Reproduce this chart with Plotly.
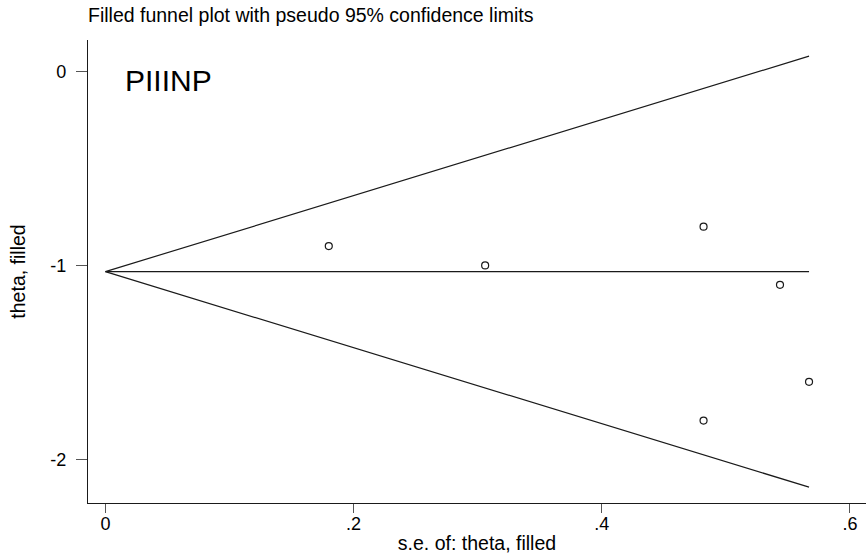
import plotly.graph_objects as go

# Study data
se_values = [0.180, 0.306, 0.482, 0.482, 0.5436, 0.567]
theta_values = [-0.90, -1.00, -0.80, -1.80, -1.10, -1.60]

# Pooled estimate and funnel extent
theta_pooled = -1.032
se_max = 0.567
z95 = 1.96

x_ticks = [0, 0.2, 0.4, 0.6]
x_tick_labels = ["0", ".2", ".4", ".6"]
y_ticks = [0, -1, -2]
y_tick_labels = ["0", "-1", "-2"]

FONT = "Liberation Sans, Arial, sans-serif"
LINE = "#1a1a1a"

fig = go.Figure()

# Pseudo 95% confidence limits
fig.add_trace(go.Scatter(
    x=[se_max, 0, se_max],
    y=[theta_pooled + z95 * se_max, theta_pooled, theta_pooled - z95 * se_max],
    mode="lines", line=dict(color=LINE, width=1.2), hoverinfo="skip", showlegend=False))
# Pooled estimate line
fig.add_trace(go.Scatter(
    x=[0, se_max], y=[theta_pooled, theta_pooled],
    mode="lines", line=dict(color=LINE, width=1.2), hoverinfo="skip", showlegend=False))
# Studies
fig.add_trace(go.Scatter(
    x=se_values, y=theta_values, mode="markers",
    marker=dict(symbol="circle-open", size=7, color=LINE, line=dict(width=1.2)),
    showlegend=False))

fig.update_layout(
    width=866, height=559,
    margin=dict(l=88, r=0, t=40, b=56),
    paper_bgcolor="white", plot_bgcolor="white",
    font=dict(family=FONT, color="black"),
    title=dict(text="Filled funnel plot with pseudo 95% confidence limits",
               x=88 / 866, xanchor="left", y=1 - 15 / 559, yanchor="middle",
               font=dict(size=19.5, family=FONT, color="black")),
    xaxis=dict(range=[-0.01403, 0.6129], tickvals=x_ticks, ticktext=x_tick_labels,
               showgrid=False, zeroline=False, showline=True, linecolor=LINE, linewidth=1.2,
               ticks="outside", ticklen=9, tickcolor="#555555", tickwidth=1,
               tickfont=dict(size=18, family=FONT), ticklabelstandoff=-5,
               title=dict(text="s.e. of: theta, filled", font=dict(size=19.5, family=FONT), standoff=3)),
    yaxis=dict(range=[-2.225, 0.1625], tickvals=y_ticks, ticktext=y_tick_labels,
               showgrid=False, zeroline=False, showline=True, linecolor=LINE, linewidth=1.2,
               ticks="outside", ticklen=11, tickcolor="#555555", tickwidth=1,
               tickfont=dict(size=18, family=FONT), ticklabelstandoff=6,
               title=dict(text="theta, filled", font=dict(size=19.5, family=FONT), standoff=19)),
    annotations=[dict(text="PIIINP", xref="paper", yref="paper",
                      x=(123 - 88) / 778, y=1 - (81 - 40) / 463,
                      xanchor="left", yanchor="middle", showarrow=False,
                      font=dict(size=30, family=FONT, color="black"))],
)

fig.write_html("out.html")
